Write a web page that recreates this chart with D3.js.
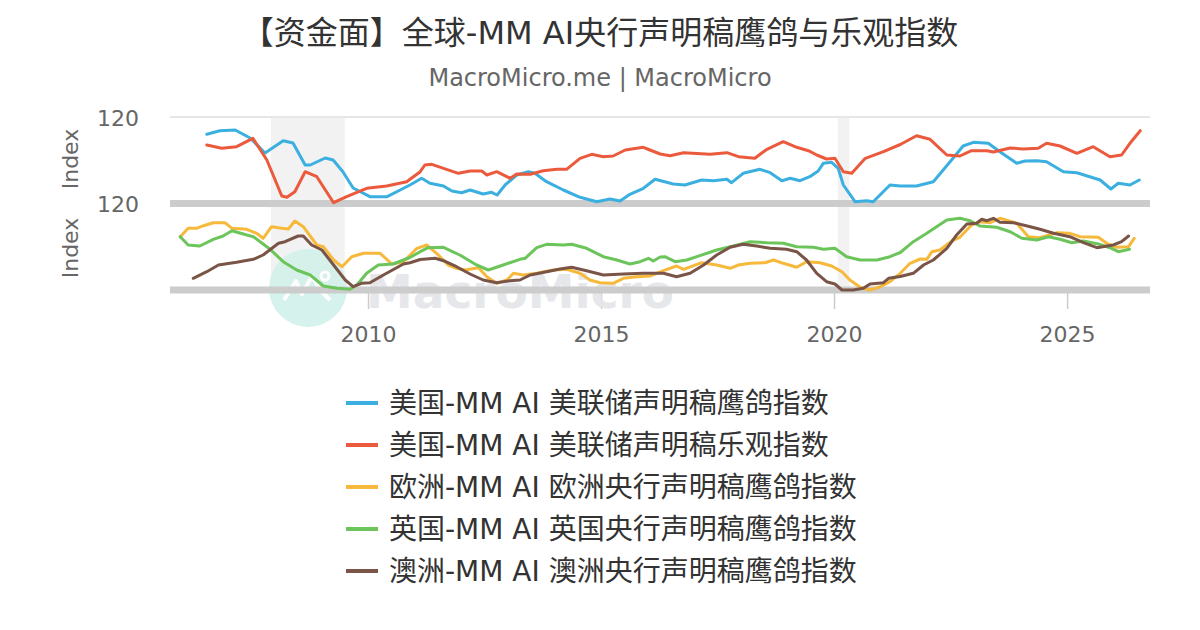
<!DOCTYPE html>
<html>
<head>
<meta charset="utf-8">
<script src="https://cdnjs.cloudflare.com/ajax/libs/d3/7.8.5/d3.min.js"></script>
<style>
  body { margin:0; background:#fff; }
  svg text { font-family:"DejaVu Sans","Noto Sans CJK SC",sans-serif; }
</style>
</head>
<body>
<svg id="chart"></svg>
<script>
// [decimal year, index value]
var usHawk = [[2006.54,102.7],[2006.82,106.3],[2007.15,107],[2007.47,99],[2007.79,84],[2008.18,96.3],[2008.39,94],[2008.65,72],[2008.76,72],[2009.08,79],[2009.25,77],[2009.46,65.3],[2009.68,49],[2010.04,40.3],[2010.41,40.3],[2010.69,47],[2010.90,52],[2011.15,58.7],[2011.33,53.7],[2011.62,51],[2011.80,46],[2012.01,44.3],[2012.19,47],[2012.47,43],[2012.65,44.7],[2012.77,42],[2012.94,52],[2013.19,62],[2013.44,65.3],[2013.58,63.7],[2013.83,55.3],[2014.19,47],[2014.55,39.7],[2014.91,35.3],[2015.19,38],[2015.41,36],[2015.62,42.7],[2015.91,48.7],[2016.16,57.7],[2016.55,53],[2016.80,52],[2017.16,57],[2017.41,56.3],[2017.70,57.7],[2017.80,54.3],[2018.05,63.7],[2018.41,67.7],[2018.63,64.3],[2018.88,56.3],[2019.06,58.7],[2019.27,56.3],[2019.48,60.3],[2019.66,66],[2019.77,73.7],[2019.95,74.7],[2020.09,68.7],[2020.20,52],[2020.45,35.3],[2020.70,36.3],[2020.84,35.3],[2021.20,52],[2021.42,51],[2021.77,51],[2022.13,55.3],[2022.49,75.3],[2022.77,91],[2022.99,94.7],[2023.31,93.7],[2023.56,85.3],[2023.92,73.7],[2024.10,76],[2024.35,76.3],[2024.56,75.3],[2024.92,65.3],[2025.21,64.3],[2025.71,57],[2025.94,48],[2026.10,53.7],[2026.35,52],[2026.55,57]];

var usOptimism = [[2006.54,92],[2006.86,88.7],[2007.18,90.3],[2007.53,98.7],[2007.83,77],[2008.15,41],[2008.26,39.7],[2008.43,45.3],[2008.65,65.3],[2008.90,60.3],[2009.26,34.3],[2009.54,40.3],[2009.97,48.7],[2010.40,51],[2010.83,55.3],[2011.12,65.3],[2011.22,72],[2011.37,72.7],[2011.62,68.7],[2011.94,63.7],[2012.19,66],[2012.44,66],[2012.55,62],[2012.76,65.3],[2013.05,58.7],[2013.19,63],[2013.48,62.7],[2013.76,66.3],[2014.05,67.7],[2014.26,67.7],[2014.55,78.7],[2014.80,82.7],[2015.05,80.3],[2015.26,81],[2015.52,87],[2015.91,89.7],[2016.05,87],[2016.27,83],[2016.48,81.3],[2016.77,84.3],[2017.34,82.7],[2017.70,84.3],[2017.95,80.3],[2018.30,78.7],[2018.56,87.7],[2018.91,95.3],[2019.20,89.7],[2019.45,86.3],[2019.63,82],[2019.84,78],[2020.02,78.7],[2020.20,65.3],[2020.38,63.7],[2020.67,78.7],[2021.06,85.3],[2021.42,92.5],[2021.77,101.3],[2022.06,97.7],[2022.42,82],[2022.70,81],[2022.95,86.3],[2023.28,86.3],[2023.42,85],[2023.78,89],[2024.06,88],[2024.38,88.7],[2024.56,93.7],[2024.85,91],[2025.21,83.7],[2025.56,90.3],[2025.92,80.3],[2026.17,82],[2026.35,93.7],[2026.57,106.3]];

var europe = [[2005.97,86.3],[2006.14,94.7],[2006.32,94.7],[2006.47,97.3],[2006.68,100.3],[2006.93,100.3],[2007.08,94.7],[2007.40,93.7],[2007.61,89.7],[2007.75,84.7],[2007.93,96.3],[2008.15,94.7],[2008.29,94],[2008.43,102],[2008.61,96.3],[2008.90,78],[2009.04,76.3],[2009.26,63],[2009.44,56.3],[2009.65,66.3],[2009.90,69.7],[2010.26,69.7],[2010.51,59],[2010.76,61.3],[2011.05,74.7],[2011.26,78],[2011.47,69.7],[2011.72,58],[2011.90,54.7],[2012.08,53],[2012.37,55.3],[2012.55,46.3],[2012.76,39.7],[2012.98,43],[2013.12,49.7],[2013.33,48],[2013.62,49.7],[2013.98,53],[2014.26,53.7],[2014.55,49.7],[2014.76,43],[2014.98,40.3],[2015.26,39.7],[2015.48,44.7],[2015.77,46.3],[2016.05,47],[2016.34,52.3],[2016.62,57],[2016.77,53.7],[2017.16,60.3],[2017.48,58],[2017.77,54.7],[2017.95,58],[2018.20,59.7],[2018.52,60.3],[2018.70,63],[2018.91,59.7],[2019.20,55.7],[2019.41,61.3],[2019.70,60.3],[2019.95,57],[2020.17,51.3],[2020.34,43],[2020.56,35.7],[2020.77,33],[2020.99,36.3],[2021.20,41.3],[2021.42,49.7],[2021.63,59.7],[2021.85,64],[2021.99,63.7],[2022.10,71.3],[2022.27,73],[2022.56,83],[2022.70,85.7],[2022.95,98],[2023.13,101.3],[2023.35,100.3],[2023.56,104.7],[2023.92,99.7],[2024.17,86.3],[2024.42,85.3],[2024.78,90.3],[2025.06,89.7],[2025.28,86.3],[2025.67,85.7],[2025.85,79.7],[2026.07,75.7],[2026.32,76.3],[2026.44,84.7]];

var uk = [[2005.97,86.3],[2006.14,78],[2006.39,77],[2006.68,83.7],[2006.89,87],[2007.08,92.3],[2007.40,88],[2007.54,86.3],[2007.90,73.7],[2008.18,61.3],[2008.47,53],[2008.76,48],[2009.04,37],[2009.33,34.7],[2009.61,33.7],[2009.76,38],[2009.97,49.7],[2010.22,58],[2010.54,59],[2010.90,65.5],[2011.12,71.3],[2011.29,75.3],[2011.62,75.7],[2011.97,68],[2012.33,58],[2012.58,53],[2012.90,58],[2013.26,63.7],[2013.37,64.7],[2013.62,75.3],[2013.83,78.7],[2014.19,78],[2014.37,78.7],[2014.69,74.7],[2015.05,66.3],[2015.34,63],[2015.62,59],[2015.84,61.3],[2016.02,64.7],[2016.12,62],[2016.27,66],[2016.37,66.3],[2016.59,61.3],[2016.84,63],[2017.12,67.3],[2017.48,73],[2017.84,77],[2018.20,81.3],[2018.56,80.3],[2018.91,79.7],[2019.20,76.3],[2019.56,75.7],[2019.77,73.7],[2020.02,74.7],[2020.27,66.3],[2020.56,63],[2020.92,63],[2021.20,66.3],[2021.42,70.5],[2021.70,81.3],[2021.99,89.7],[2022.20,96.3],[2022.42,103],[2022.70,104.7],[2022.92,102.3],[2023.13,97],[2023.49,95.7],[2023.78,91.3],[2024.03,84.7],[2024.35,83],[2024.60,86.3],[2024.85,83.7],[2025.10,80.3],[2025.35,82],[2025.67,79],[2025.92,75.3],[2026.10,71.3],[2026.34,73.7]];

var australia = [[2006.25,44.7],[2006.54,51.3],[2006.79,58],[2007.18,60.7],[2007.54,63.7],[2007.75,68],[2008.08,79.7],[2008.22,81.3],[2008.50,87],[2008.61,87],[2008.79,78],[2009.01,73],[2009.26,58],[2009.51,43],[2009.68,36.3],[2009.86,39.7],[2010.04,40.3],[2010.33,48],[2010.76,59],[2010.90,60.3],[2011.12,63.5],[2011.44,64.7],[2011.62,62.3],[2011.90,56.3],[2012.19,49],[2012.47,43],[2012.76,40.3],[2013.05,42.3],[2013.26,43],[2013.48,48],[2013.83,51.3],[2014.12,54],[2014.37,55.7],[2014.69,52.3],[2015.05,48],[2015.48,49],[2015.91,49.7],[2016.34,49.7],[2016.62,46.3],[2016.91,49.7],[2017.20,58],[2017.48,68],[2017.77,75.7],[2018.05,78.7],[2018.34,77],[2018.63,74.7],[2018.98,73.7],[2019.20,71.3],[2019.41,63],[2019.63,49.7],[2019.84,41.3],[2020.02,39],[2020.17,33],[2020.41,33],[2020.63,34.7],[2020.77,39],[2021.06,40.3],[2021.17,44.7],[2021.42,46.5],[2021.70,49.7],[2021.92,58],[2022.13,63],[2022.42,74.7],[2022.63,88],[2022.85,99],[2023.06,99.7],[2023.17,103.7],[2023.28,102.3],[2023.42,104.7],[2023.56,100.7],[2023.85,100.3],[2024.21,96.3],[2024.42,93.7],[2024.71,89.7],[2025.06,86.3],[2025.35,80.3],[2025.64,75.3],[2025.99,78],[2026.17,81.3],[2026.32,87]];

var recessions = [[2007.92,2009.5],[2020.08,2020.33]];
var yTickLabels = ["120"];
var seriesNames = ["美国-MM AI 美联储声明稿鹰鸽指数","美国-MM AI 美联储声明稿乐观指数","欧洲-MM AI 欧洲央行声明稿鹰鸽指数","英国-MM AI 英国央行声明稿鹰鸽指数","澳洲-MM AI 澳洲央行声明稿鹰鸽指数"];
var seriesColors = ["#3aafe0","#eb5a3c","#f6b93b","#6cc55a","#7a5547"];
var titleText = "【资金面】全球-MM AI央行声明稿鹰鸽与乐观指数";
var subtitleText = "MacroMicro.me | MacroMicro";

var screen = {width:1200, height:630};
var plot = {left:170, right:1150, top:117, mid:203, bottom:290};

//turns 2010.5 into a Date in mid 2010
var toDate = function(yr)
{
    var y = Math.floor(yr);
    var start = new Date(y,0,1);
    var end = new Date(y+1,0,1);
    return new Date(start.getTime()+(yr-y)*(end-start));
}

var svg = d3.select("#chart")
    .attr("width",screen.width)
    .attr("height",screen.height);

var xScale = d3.scaleTime()
    .domain([toDate(2005.75),toDate(2026.78)])
    .range([plot.left,plot.right]);

var yTop = d3.scaleLinear()
    .domain([34,120])
    .range([plot.mid,plot.top]);

var yBottom = d3.scaleLinear()
    .domain([33,120])
    .range([plot.bottom,plot.mid]);

//recession shading
svg.append("g")
    .selectAll("rect")
    .data(recessions)
    .enter()
    .append("rect")
    .attr("x",function(d){return xScale(toDate(d[0]))})
    .attr("width",function(d){return xScale(toDate(d[1]))-xScale(toDate(d[0]))})
    .attr("y",plot.top)
    .attr("height",plot.bottom-plot.top)
    .attr("fill","#f2f2f2");

//x axis
var xAxis = d3.axisBottom(xScale)
    .ticks(d3.timeYear.every(5))
    .tickFormat(d3.timeFormat("%Y"))
    .tickSize(16);

var xg = svg.append("g")
    .attr("transform","translate(0,"+(plot.bottom+3)+")")
    .call(xAxis);
xg.select(".domain").remove();
xg.selectAll("line").attr("stroke","#ccc").attr("stroke-width",1.5);
xg.selectAll("text")
    .attr("y",49)
    .attr("dy",0)
    .attr("fill","#666")
    .style("font-size","22px");

//watermark
var wm = svg.append("g").attr("opacity",0.9);
wm.append("circle")
    .attr("cx",308).attr("cy",288).attr("r",39)
    .attr("fill","#d2f1ea");
wm.append("path")
    .attr("d","M284,300 L296,281 L302,294 L312,276 L320,290 L330,300")
    .attr("fill","none").attr("stroke","#fff").attr("stroke-width",4)
    .attr("stroke-linejoin","round");
wm.append("circle")
    .attr("cx",325).attr("cy",276).attr("r",4)
    .attr("fill","none").attr("stroke","#fff").attr("stroke-width",3);
wm.append("text")
    .attr("x",366).attr("y",308)
    .text("MacroMicro")
    .attr("fill","#e4e5e8")
    .style("font-size","47px")
    .style("font-weight","bold");

//grid and panel lines
svg.append("line")
    .attr("x1",plot.left).attr("x2",plot.right)
    .attr("y1",plot.top).attr("y2",plot.top)
    .attr("stroke","#e6e6e6").attr("stroke-width",2);

svg.selectAll(".panelLine")
    .data([plot.mid+0.5,plot.bottom])
    .enter()
    .append("line")
    .classed("panelLine",true)
    .attr("x1",plot.left).attr("x2",plot.right)
    .attr("y1",function(d){return d}).attr("y2",function(d){return d})
    .attr("stroke","#cccccc").attr("stroke-width",7);

//y axes
var drawYAxis = function(scale,titleY)
{
    var yAxis = d3.axisLeft(scale)
        .tickValues([120])
        .tickFormat(function(d,i){return yTickLabels[i]})
        .tickSize(0)
        .tickPadding(31);
    var g = svg.append("g")
        .attr("transform","translate("+plot.left+",1)")
        .call(yAxis);
    g.select(".domain").remove();
    g.selectAll("text")
        .attr("fill","#666")
        .style("font-size","22px");
    svg.append("text")
        .attr("transform","translate(78,"+titleY+") rotate(-90)")
        .attr("text-anchor","middle")
        .attr("fill","#666")
        .style("font-size","22px")
        .text("Index");
}
drawYAxis(yTop,159);
drawYAxis(yBottom,248);

//lines
var lineFor = function(yScale)
{
    return d3.line()
        .x(function(d){return xScale(toDate(d[0]))})
        .y(function(d){return yScale(d[1])});
}

var series = [
    {data:usHawk, y:yTop},
    {data:usOptimism, y:yTop},
    {data:europe, y:yBottom},
    {data:uk, y:yBottom},
    {data:australia, y:yBottom}
];

svg.append("g")
    .selectAll("path")
    .data(series)
    .enter()
    .append("path")
    .attr("d",function(s){return lineFor(s.y)(s.data)})
    .attr("fill","none")
    .attr("stroke",function(s,i){return seriesColors[i]})
    .attr("stroke-width",3)
    .attr("stroke-linejoin","round")
    .attr("stroke-linecap","round");

//title
svg.append("text")
    .attr("x",600).attr("y",44)
    .attr("text-anchor","middle")
    .attr("fill","#333")
    .style("font-size","32px")
    .text(titleText);

svg.append("text")
    .attr("x",600).attr("y",86)
    .attr("text-anchor","middle")
    .attr("fill","#666")
    .style("font-size","24px")
    .text(subtitleText);

//legend
var legend = svg.append("g")
    .selectAll("g")
    .data(seriesNames)
    .enter()
    .append("g")
    .attr("transform",function(d,i){return "translate(346,"+(403+i*42)+")"});

legend.append("line")
    .attr("x1",0).attr("x2",32)
    .attr("stroke",function(d,i){return seriesColors[i]})
    .attr("stroke-width",4);

legend.append("text")
    .attr("x",43)
    .attr("dy","0.36em")
    .attr("fill","#333")
    .style("font-size","28px")
    .text(function(d){return d});
</script>
</body>
</html>
